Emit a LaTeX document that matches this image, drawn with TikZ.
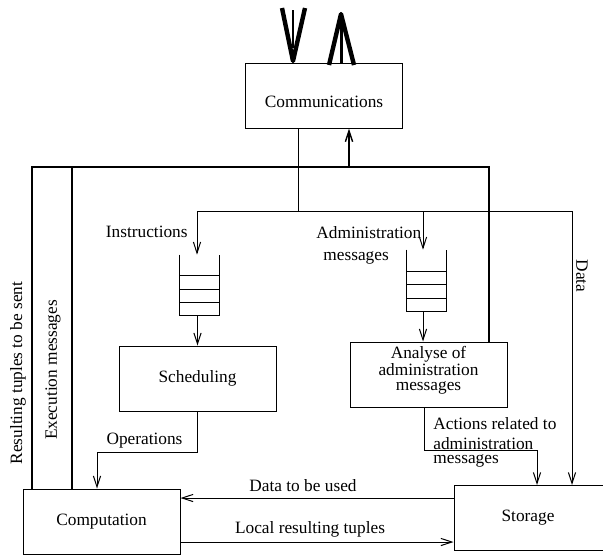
\documentclass[tikz,border=0pt]{standalone}
\usepackage{fontspec}
\setmainfont{Liberation Serif}
\usetikzlibrary{arrows.meta,calc}
\newcommand\dfnt{\fontsize{8.65pt}{10.4pt}\selectfont}
\newcommand\drawqueue[1]{%
  \draw[thinl] (#1.north west) -- (#1.south west) -- (#1.south east) -- (#1.north east);
  \foreach \f in {0.217,0.433,0.65}
    \draw[thinl] ($(#1.south west)!\f!(#1.north west)$) -- ($(#1.south east)!\f!(#1.north east)$);
}
\begin{document}
\begin{tikzpicture}[x=0.5pt,y=-0.5pt,
  every node/.style={font=\dfnt, inner sep=0pt},
  box/.style={draw, line width=0.5pt, minimum width=78.5pt, minimum height=32.5pt},
  thinl/.style={line width=0.5pt},
  framel/.style={line width=0.7pt},
  arr/.style={-{Straight Barb[length=5.5pt,width=3.6pt]}},
  qbox/.style={minimum width=19.5pt, minimum height=30pt},
  vhead/.style={line width=2.2pt, line join=round, line cap=butt}
]
\useasboundingbox (0,0) rectangle (603,554);

% boxes
\node[box, text height=11.5pt, text depth=0pt] (comm) at (324,95.5) {Communications};
\node[box] (sched) at (197.5,378.5) {Scheduling};
\node[box, align=center, font=\fontsize{8.65pt}{7.3pt}\selectfont] (anal) at (428.5,374.5)
  {Analyse of\\administration\\messages\rule[-6.4pt]{0pt}{0pt}};
\node[box] (comp) at (101.5,521.5) {Computation};
\node[box] (stor) at (532.5,518) {\hspace*{-4.5pt}Storage};

% queues
\node[qbox] (q1) at (199.5,285) {};
\node[qbox, minimum height=30.5pt] (q2) at (426.5,280.5) {};
\drawqueue{q1}
\drawqueue{q2}

% big external arrows
\coordinate (inA) at (293,10);
\coordinate (inTip) at (293,61);
\draw[line width=1pt] (inA) -- ($(inA)!0.75!(inTip)$);
\draw[vhead] (inTip) ++(-11,-53) -- (inTip) -- ++(12,-53);
\coordinate (outTip) at (341,14);
\draw[line width=1.5pt] (comm.north -| outTip) -- (outTip);
\draw[vhead] (outTip) ++(-12,51) -- (outTip) -- ++(13,51);

% distribution bus
\coordinate (busL) at (197,211);
\coordinate (busT) at (298,211);
\coordinate (busM) at (423,211);
\coordinate (busR) at (572,211);
\draw[thinl] (comm.south -| busT) -- (busT);
\draw[thinl] (busL) -- (busR);
\draw[thinl, arr] (busL) -- (busL |- q1.north);
\draw[thinl, arr] (busM) -- (busM |- q2.north);
\draw[thinl, arr] (busR) -- (busR |- stor.north);
\draw[thinl, arr] (q1.south -| sched.north) -- (sched.north);
\draw[thinl, arr] (busM |- q2.south) -- (busM |- anal.north);

% return frame
\coordinate (fL) at (32,167);
\coordinate (fL2) at (72,167);
\coordinate (fUp) at (349,167);
\coordinate (fR) at (489,167);
\draw[framel] (comp.north -| fL) -- (fL) -- (fR) -- (fR |- anal.north);
\draw[framel] (comp.north -| fL2) -- (fL2);
\draw[framel, arr] (fUp) -- (comm.south -| fUp);

% operations
\coordinate (opC) at (97,452);
\draw[thinl, arr] (sched.south) |- (opC) -- (opC |- comp.north);

% actions
\coordinate (acA) at (424,450);
\coordinate (acC) at (537,450);
\draw[thinl, arr] (acA |- anal.south) -- (acA) -- (acC) -- (acC |- stor.north);

% computation <-> storage
\coordinate (dU) at (300,498);
\coordinate (dL) at (300,542);
\draw[thinl, arr] (stor.west |- dU) -- (comp.east |- dU);
\draw[thinl, arr] (comp.east |- dL) -- (stor.west |- dL);

% labels
\node[anchor=east] (lInstr) at (188,232) {Instructions};
\node[anchor=north west, align=left] (lAdm) at (316,226) {Administration\\[0.6pt]\hspace*{3.5pt}messages};
\node (lOps) at (144.5,441) {Operations};
\node[anchor=north west, align=left] (lAct) at (433,417) {Actions related to\\[-0.4pt]administration\\[-3.4pt]messages};
\node (lDU) at (303,486) {Data to be used};
\node (lLR) at (310,529) {Local resulting tuples};
\node[rotate=-90] (lData) at (582,276) {Data};
\node[rotate=90] (lRes) at (18,373) {Resulting tuples to be sent};
\node[rotate=90] (lExe) at (53,370) {Execution messages};
\end{tikzpicture}
\end{document}
